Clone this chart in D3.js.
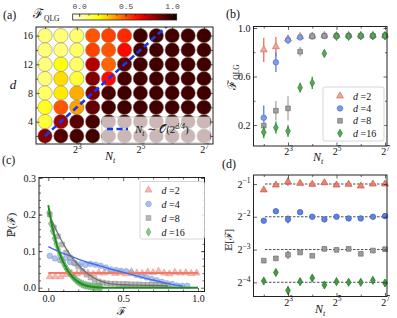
<!DOCTYPE html>
<html>
<head>
<meta charset="utf-8">
<script src="https://cdn.jsdelivr.net/npm/d3@7"></script>
<style>
  body { margin: 0; background: #fff; }
  svg { display: block; }
</style>
</head>
<body>
<svg id="fig" width="397" height="318"></svg>
<script>
// ---- data ----
const logNt = [2, 2.5, 3, 3.5, 4, 4.5, 5, 5.5, 6, 6.5, 7];   // N_t = 2^x
const dRows = [16, 14, 12, 10, 8, 6, 4, 2];
const dSeries = [2, 4, 8, 16];

// (a) F_QLG heat grid, rows follow dRows, columns follow logNt
const gridD16 = [0.08, 0.08, 0.09, 0.50, 0.53, 0.57, 0.96, 0.96, 0.96, 0.96, 0.96];
const gridD14 = [0.08, 0.08, 0.10, 0.53, 0.50, 0.63, 0.96, 0.96, 0.96, 0.96, 0.96];
const gridD12 = [0.08, 0.20, 0.10, 0.77, 0.47, 0.92, 0.96, 0.96, 0.96, 0.96, 0.96];
const gridD10 = [0.08, 0.27, 0.15, 0.85, 0.63, 0.95, 0.96, 0.96, 0.96, 0.96, 0.96];
const gridD8  = [0.10, 0.25, 0.35, 0.87, 0.95, 0.96, 0.96, 0.96, 0.96, 0.96, 0.96];
const gridD6  = [0.18, 0.50, 0.37, 0.90, 0.96, 0.96, 0.96, 0.96, 0.96, 0.96, 0.96];
const gridD4  = [0.15, 0.80, 0.92, 0.95, 0.96, 0.96, 0.96, 0.96, 0.96, 0.96, 0.96];
const gridD2  = [0.85, 0.93, 0.95, 0.96, 0.96, 0.96, 0.96, 0.96, 0.96, 0.96, 0.96];
const cbMin = -0.07, cbMax = 1.05;
const cbTicks = [0, 0.5, 1.0];
const guideD = [2, 18];          // N_t ~ O(2^{d/4}) guide line
const guideLogNt = [2, 6];

// (b) F_QLG vs N_t
const fqD2  = [0.82, 0.846, 0.91, 0.93, 0.935, 0.94, 0.94, 0.94, 0.94, 0.94, 0.94];
const erD2  = [0.10, 0.08, 0.03, 0.02, 0.015, 0.015, 0.015, 0.015, 0.015, 0.015, 0.015];
const fqD4  = [0.26, 0.717, 0.90, 0.922, 0.93, 0.935, 0.935, 0.935, 0.935, 0.935, 0.94];
const erD4  = [0.10, 0.08, 0.03, 0.02, 0.015, 0.015, 0.015, 0.015, 0.015, 0.015, 0.015];
const fqD8  = [0.195, 0.318, 0.337, 0.805, 0.932, 0.934, 0.935, 0.935, 0.935, 0.935, 0.935];
const erD8  = [0.04, 0.08, 0.10, 0.04, 0.02, 0.015, 0.015, 0.015, 0.015, 0.015, 0.015];
const fqD16 = [0.14, 0.178, 0.15, 0.508, 0.547, 0.79, 0.93, 0.93, 0.935, 0.935, 0.935];
const erD16 = [0.05, 0.05, 0.05, 0.04, 0.05, 0.03, 0.02, 0.02, 0.02, 0.02, 0.02];

// (c) distributions P(F)
const fD2 = [0.01, 0.046, 0.083, 0.119, 0.155, 0.192, 0.228, 0.264, 0.3, 0.337, 0.373, 0.409, 0.446, 0.482,
             0.518, 0.555, 0.591, 0.627, 0.664, 0.7, 0.736, 0.773, 0.809, 0.845, 0.882, 0.918, 0.954, 0.99];
const pD2 = [0.03, 0.03, 0.03, 0.036, 0.04, 0.038, 0.042, 0.04, 0.037, 0.041, 0.04, 0.043, 0.039, 0.041,
             0.038, 0.044, 0.04, 0.039, 0.043, 0.041, 0.045, 0.04, 0.038, 0.042, 0.04, 0.041, 0.039, 0.04];
const fD4 = [0.01, 0.044, 0.078, 0.112, 0.146, 0.18, 0.214, 0.248, 0.282, 0.316, 0.35, 0.384, 0.418, 0.452,
             0.486, 0.52, 0.554, 0.588, 0.622, 0.656, 0.69, 0.724, 0.758, 0.792, 0.826, 0.86, 0.894, 0.928];
const pD4 = [0.087, 0.08, 0.075, 0.08, 0.07, 0.066, 0.064, 0.062, 0.065, 0.063, 0.06, 0.055, 0.05, 0.048,
             0.046, 0.045, 0.04, 0.035, 0.032, 0.028, 0.024, 0.02, 0.016, 0.012, 0.01, 0.006, 0.005, 0.005];
const fD8 = [0.01, 0.037, 0.064, 0.092, 0.119, 0.146, 0.173, 0.2, 0.228, 0.255, 0.282, 0.309, 0.336, 0.364, 0.391,
             0.418, 0.445, 0.472, 0.5, 0.527, 0.554, 0.581, 0.608, 0.636, 0.663, 0.69, 0.717, 0.744, 0.772, 0.799];
const pD8 = [0.2, 0.165, 0.14, 0.118, 0.096, 0.082, 0.068, 0.058, 0.045, 0.036, 0.028, 0.022, 0.017, 0.014, 0.012,
             0.011, 0.011, 0.01, 0.01, 0.01, 0.009, 0.009, 0.009, 0.008, 0.008, 0.008, 0.007, 0.007, 0.006, 0.006];
const fD16 = [0.005, 0.017, 0.029, 0.041, 0.053, 0.065, 0.077, 0.089, 0.101, 0.113, 0.125, 0.137, 0.149, 0.161, 0.173,
              0.185, 0.197, 0.209, 0.221, 0.233, 0.245, 0.257, 0.269, 0.281, 0.293, 0.305, 0.317, 0.329, 0.341, 0.353];
const pD16 = [0.205, 0.175, 0.155, 0.135, 0.12, 0.105, 0.09, 0.078, 0.068, 0.058, 0.05, 0.043, 0.037, 0.031, 0.026,
              0.021, 0.017, 0.014, 0.011, 0.009, 0.007, 0.006, 0.005, 0.004, 0.003, 0.003, 0.002, 0.002, 0.001, 0.001];
// fitted curves
const fitF   = [0, 0.025, 0.05, 0.075, 0.1, 0.125, 0.15, 0.175, 0.2, 0.25, 0.3, 0.35, 0.4, 0.5, 0.6, 0.7, 0.8, 0.9, 1.0];
const fitD2  = [0.04, 0.04, 0.04, 0.04, 0.04, 0.04, 0.04, 0.04, 0.04, 0.04, 0.04, 0.04, 0.04, 0.04, 0.04, 0.04, 0.04, 0.04, 0.04];
const fitD4  = [0.112, 0.107, 0.103, 0.098, 0.094, 0.09, 0.086, 0.082, 0.078, 0.071, 0.065, 0.059, 0.053, 0.042, 0.031, 0.021, 0.011, 0.004, null];
const fitD8  = [0.205, 0.182, 0.16, 0.14, 0.12, 0.103, 0.088, 0.074, 0.062, 0.042, 0.028, 0.018, 0.012, 0.008, 0.007, 0.006, 0.005, null, null];
const fitD16 = [0.226, 0.17, 0.128, 0.095, 0.07, 0.05, 0.035, 0.024, 0.016, 0.006, 0.002, 0.0005, 0, 0, 0, 0, 0, 0, 0];

// (d) log2 E[F] vs N_t
const eD2  = [-1.18, -1.03, -0.93, -0.98, -1.01, -0.96, -1.03, -1.01, -1.06, -1.0, -1.0];
const eD4  = [-2.12, -1.83, -2.08, -1.86, -2.0, -2.08, -2.0, -2.05, -2.05, -2.0, -1.98];
const eD8  = [-3.34, -3.27, -3.16, -3.09, -3.19, -2.98, -3.01, -2.98, -3.13, -3.03, -2.99];
const eD16 = [-3.96, -3.7, -4.25, -3.98, -3.87, -4.08, -3.98, -4.0, -4.0, -3.94, -4.02];
const eErr = [0.05, 0.06, 0.12, 0.05, 0.05, 0.06, 0.05, 0.05, 0.05, 0.06, 0.06];
const eLevels = [-1, -2, -3, -4];

// ---- styles ----
const serif = '"Liberation Serif","DejaVu Serif",serif';
const mark = [
  {type: d3.symbolTriangle, size: 21, b: ["#f4a494", "#d0706a", "#f26a5a"], c: ["#f4a89e", "#dc8a80"], d: ["#ee8070", "#c85548"]},
  {type: d3.symbolCircle,   size: 24, b: ["#7f9de6", "#4d6fc8", "#4f7ff0"], c: ["#9db3ea", "#7a94d6"], d: ["#5f83e2", "#3a5cc0"]},
  {type: d3.symbolSquare,   size: 22, b: ["#a0a0a0", "#707070", "#aaaaaa"], c: ["#acacac", "#888888"], d: ["#9c9c9c", "#6e6e6e"]},
  {type: d3.symbolDiamond,  size: 19, b: ["#56aa56", "#2d7a2d", "#2ca02c"], c: ["#7bbf7b", "#4f9a4f"], d: ["#3f9f3f", "#206820"]}
];

const svg = d3.select("#fig");

function panel(x0, y0, x1, y1) {
  const g = svg.append("g").attr("transform", `translate(${x0},${y0})`);
  return {g: g, w: x1 - x0, h: y1 - y0};
}

function supFmt(sel, anchor) {
  sel.selectAll(".tick text").each(function(d) {
    const t = d3.select(this);
    t.text(null).attr("text-anchor", anchor);
    t.append("tspan").text("2");
    t.append("tspan").attr("dy", -4.5).attr("font-size", 7.5).text(String(d).replace("-", "\u2212"));
  });
}

function drawAxes(p, x, y, o) {
  const g = p.g, w = p.w, h = p.h;
  const strip = s => s.select(".domain").remove();
  if (o.xMinor) {
    g.append("g").attr("transform", `translate(0,${h})`)
      .call(d3.axisBottom(x).tickValues(o.xMinor).tickSize(-2).tickFormat("")).call(strip);
    g.append("g").call(d3.axisTop(x).tickValues(o.xMinor).tickSize(-2).tickFormat("")).call(strip);
  }
  if (o.yMinor) {
    g.append("g").call(d3.axisLeft(y).tickValues(o.yMinor).tickSize(-2).tickFormat("")).call(strip);
    g.append("g").attr("transform", `translate(${w},0)`)
      .call(d3.axisRight(y).tickValues(o.yMinor).tickSize(-2).tickFormat("")).call(strip);
  }
  const xa = g.append("g").attr("transform", `translate(0,${h})`)
    .call(d3.axisBottom(x).tickValues(o.xTicks).tickSize(-3.5).tickPadding(o.xPad || 3).tickFormat(o.xFmt)).call(strip);
  g.append("g").call(d3.axisTop(x).tickValues(o.xTicks).tickSize(-3.5).tickFormat("")).call(strip);
  const ya = g.append("g")
    .call(d3.axisLeft(y).tickValues(o.yTicks).tickSize(-3.5).tickPadding(3).tickFormat(o.yFmt)).call(strip);
  g.append("g").attr("transform", `translate(${w},0)`)
    .call(d3.axisRight(y).tickValues(o.yTicks).tickSize(-3.5).tickFormat("")).call(strip);
  g.append("rect").attr("width", w).attr("height", h)
    .attr("fill", "none").attr("stroke", "#222").attr("stroke-width", 1);
  g.selectAll(".tick line").attr("stroke", "#222").attr("stroke-width", 0.7);
  g.selectAll(".tick text").attr("font-family", serif).attr("font-size", 10).attr("fill", "#111");
  if (o.xSup) supFmt(xa, "middle");
  if (o.ySup) supFmt(ya, "end");
}

function label(x, y, parts, opt) {
  const t = svg.append("text").attr("x", x).attr("y", y).attr("font-family", serif)
    .attr("fill", "#111").attr("text-anchor", (opt && opt.anchor) || "start");
  if (opt && opt.rotate) t.attr("transform", `rotate(-90,${x},${y})`);
  parts.forEach(p => {
    const s = t.append("tspan").text(p.t).attr("font-size", p.fs || 11);
    if (p.it) s.attr("font-style", "italic");
    if (p.dy) s.attr("dy", p.dy);
  });
  return t;
}

function legendRow(g, x, y, k, set, alpha) {
  const m = mark[k];
  g.append("path").attr("transform", `translate(${x},${y})`)
    .attr("d", d3.symbol().type(m.type).size(m.size)())
    .attr("fill", m[set][0]).attr("stroke", m[set][1]).attr("stroke-width", 0.7).attr("opacity", alpha);
  const t = g.append("text").attr("x", x + 13).attr("y", y + 3.5).attr("font-family", serif).attr("font-size", 10).attr("fill", "#111");
  t.append("tspan").attr("font-style", "italic").text("d");
  t.append("tspan").text(" =" + dSeries[k]);
}

// ---- (a) heat grid ----
const grid = [gridD16, gridD14, gridD12, gridD10, gridD8, gridD6, gridD4, gridD2];
const pa = panel(36, 27, 213, 144);
const xa = d3.scaleLinear().domain([1.717, 7.283]).range([0, pa.w]);
const ya = d3.scaleLinear().domain([0.883, 17.21]).range([pa.h, 0]);
const cNorm = d3.scaleLinear().domain([cbMin, cbMax]).range([1, 0]).clamp(true);
function hotR(v) {
  const t = cNorm(v);
  const r = Math.min(1, 0.0416 + t / 0.365079 * 0.9584);
  const g = Math.max(0, Math.min(1, (t - 0.365079) / 0.380953));
  const b = Math.max(0, Math.min(1, (t - 0.746032) / 0.253968));
  return d3.rgb(r * 255, g * 255, b * 255).formatHex();
}
svg.append("clipPath").attr("id", "clipA").append("rect").attr("width", pa.w).attr("height", pa.h);
const cells = [];
grid.forEach((row, i) => row.forEach((v, j) => cells.push({d: dRows[i], n: logNt[j], v: v})));
pa.g.append("g").attr("clip-path", "url(#clipA)").selectAll("circle").data(cells).join("circle")
  .attr("cx", c => xa(c.n)).attr("cy", c => ya(c.d)).attr("r", 7.2)
  .attr("fill", c => hotR(c.v)).attr("stroke", "#8a7a6a").attr("stroke-width", 0.5);
pa.g.append("path").attr("clip-path", "url(#clipA)")
  .datum(guideD.map((d, i) => [guideLogNt[i], d]))
  .attr("d", d3.line().x(p => xa(p[0])).y(p => ya(p[1])))
  .attr("fill", "none").attr("stroke", "#1a35f0").attr("stroke-width", 2.6).attr("stroke-dasharray", "6,3.5");
drawAxes(pa, xa, ya, {xTicks: [3, 5, 7], xMinor: [2, 4, 6], xFmt: d => d, xSup: true, xPad: 2,
  yTicks: [4, 8, 12, 16], yMinor: [2, 6, 10, 14], yFmt: d => d});
// legend of (a)
const la = pa.g.append("g");
la.append("rect").attr("x", 66).attr("y", 90).attr("width", 108).attr("height", 26).attr("rx", 2)
  .attr("fill", "#fff").attr("fill-opacity", 0.72).attr("stroke", "#bbb").attr("stroke-width", 0.8);
la.append("line").attr("x1", 71).attr("x2", 92).attr("y1", 102).attr("y2", 102)
  .attr("stroke", "#1a35f0").attr("stroke-width", 2.6).attr("stroke-dasharray", "6,3.5");
const lt = la.append("text").attr("x", 99).attr("y", 106).attr("font-family", serif).attr("font-size", 11).attr("fill", "#111");
lt.append("tspan").attr("font-style", "italic").text("N");
lt.append("tspan").attr("font-style", "italic").attr("font-size", 7.5).attr("dy", 2.5).text("t");
lt.append("tspan").attr("dy", -2.5).text(" \u223C \uD835\uDCAA(2");
lt.append("tspan").attr("font-style", "italic").attr("font-size", 7.5).attr("dy", -4.5).text("d/4");
lt.append("tspan").attr("dy", 4.5).text(")");

// colorbar
const cbx = d3.scaleLinear().domain([cbMin, cbMax]).range([72.7, 176.7]);
const grad = svg.append("defs").append("linearGradient").attr("id", "cbGrad");
d3.range(0, 1.0001, 0.05).forEach(f => {
  grad.append("stop").attr("offset", f).attr("stop-color", hotR(cbMin + f * (cbMax - cbMin)));
});
svg.append("rect").attr("x", cbx(cbMin)).attr("y", 14).attr("width", cbx(cbMax) - cbx(cbMin)).attr("height", 6)
  .attr("fill", "url(#cbGrad)").attr("stroke", "#222").attr("stroke-width", 0.8);
svg.append("g").attr("transform", "translate(0,14)")
  .call(d3.axisTop(cbx).tickValues(d3.range(0, 1.01, 0.1)).tickSize(-1.8).tickFormat(""))
  .call(s => s.select(".domain").remove())
  .selectAll("line").attr("stroke", "#222").attr("stroke-width", 0.6);
svg.append("g").attr("transform", "translate(0,14)")
  .call(d3.axisTop(cbx).tickValues(cbTicks).tickSize(-3).tickPadding(5).tickFormat(d3.format(".1f")))
  .call(s => s.select(".domain").remove())
  .call(s => s.selectAll("line").attr("stroke", "#222").attr("stroke-width", 0.7))
  .call(s => s.selectAll("text").attr("font-family", '"Liberation Mono","DejaVu Sans Mono",monospace').attr("font-size", 8).attr("fill", "#444"));

label(3, 19, [{t: "(a)", fs: 12}]);
label(33, 18, [{t: "\u2131", fs: 13}, {t: "QLG", fs: 7.5, dy: 3}]);
label(13, 89, [{t: "d", it: true, fs: 13}], {anchor: "middle"});
label(110, 160, [{t: "N", it: true, fs: 12}, {t: "t", it: true, fs: 8, dy: 3}], {anchor: "middle"});

// ---- (b) F_QLG vs N_t ----
const pb = panel(253.5, 26.5, 387, 146);
const xb = d3.scaleLinear().domain([1.577, 7.082]).range([0, pb.w]);
const yb = d3.scaleLinear().domain([0.0268, 1.0124]).range([pb.h, 0]);
const fqAll = [fqD2, fqD4, fqD8, fqD16], erAll = [erD2, erD4, erD8, erD16];
fqAll.forEach((vals, k) => {
  const m = mark[k];
  const s = pb.g.append("g");
  s.selectAll("line").data(vals).join("line")
    .attr("x1", (v, i) => xb(logNt[i])).attr("x2", (v, i) => xb(logNt[i]))
    .attr("y1", (v, i) => yb(v - erAll[k][i])).attr("y2", (v, i) => yb(v + erAll[k][i]))
    .attr("stroke", m.b[2]).attr("stroke-width", 1.3);
  s.selectAll("path").data(vals).join("path")
    .attr("transform", (v, i) => `translate(${xb(logNt[i])},${yb(v)})`)
    .attr("d", d3.symbol().type(m.type).size(m.size)())
    .attr("fill", m.b[0]).attr("stroke", m.b[1]).attr("stroke-width", 0.7);
});
drawAxes(pb, xb, yb, {xTicks: [3, 5, 7], xMinor: [2, 4, 6], xFmt: d => d, xSup: true, xPad: 2,
  yTicks: [0.2, 0.6, 1.0], yMinor: [0.4, 0.8], yFmt: d3.format(".1f")});
const lb = pb.g.append("g");
lb.append("rect").attr("x", 69.5).attr("y", 60.5).attr("width", 61).attr("height", 54).attr("rx", 2)
  .attr("fill", "#fff").attr("fill-opacity", 0.85).attr("stroke", "#ccc").attr("stroke-width", 0.8);
[0, 1, 2, 3].forEach(k => legendRow(lb, 86.5, 69.5 + k * 12.4, k, "b", 1));
label(226, 18, [{t: "(b)", fs: 12}]);
label(236, 77, [{t: "\u2131", fs: 12}, {t: "QLG", fs: 7.5, dy: 3}], {anchor: "middle", rotate: true});
label(318, 161, [{t: "N", it: true, fs: 12}, {t: "t", it: true, fs: 8, dy: 3}], {anchor: "middle"});

// ---- (c) distributions ----
const pc = panel(39, 177.5, 204.5, 291.5);
const xc = d3.scaleLinear().domain([-0.062, 1.043]).range([0, pc.w]);
const yc = d3.scaleLinear().domain([-0.0104, 0.3013]).range([pc.h, 0]);
const fAll = [fD2, fD4, fD8, fD16], pAll = [pD2, pD4, pD8, pD16];
fAll.forEach((fs, k) => {
  const m = mark[k];
  pc.g.append("g").selectAll("path").data(fs).join("path")
    .attr("transform", (f, i) => `translate(${xc(f)},${yc(pAll[k][i])})`)
    .attr("d", d3.symbol().type(m.type).size(m.size)())
    .attr("fill", m.c[0]).attr("stroke", m.c[1]).attr("stroke-width", 0.7).attr("opacity", 0.8);
});
const fitAll = [fitD2, fitD4, fitD8, fitD16];
const fitStyle = [["#f47a66", 2], ["#3f6fe6", 1.4], ["#6e6e6e", 1.3], ["#1c8c1c", 1.9]];
fitAll.forEach((vals, k) => {
  pc.g.append("path").datum(fitF.map((f, i) => [f, vals[i]]))
    .attr("d", d3.line().defined(p => p[1] !== null).curve(d3.curveMonotoneX).x(p => xc(p[0])).y(p => yc(p[1])))
    .attr("fill", "none").attr("stroke", fitStyle[k][0]).attr("stroke-width", fitStyle[k][1]);
});
drawAxes(pc, xc, yc, {xTicks: [0, 0.5, 1.0], xMinor: d3.range(0.1, 1.0, 0.1).filter(v => Math.abs(v - 0.5) > 0.01), xFmt: d3.format(".1f"),
  yTicks: [0, 0.1, 0.2, 0.3], yMinor: d3.range(0.02, 0.3, 0.02), yFmt: d3.format(".1f")});
const lc = pc.g.append("g");
lc.append("rect").attr("x", 101).attr("y", 4).attr("width", 64.5).attr("height", 57.5).attr("rx", 2)
  .attr("fill", "#fff").attr("fill-opacity", 0.85).attr("stroke", "#ccc").attr("stroke-width", 0.8);
[0, 1, 2, 3].forEach(k => legendRow(lc, 109.5, 12.5 + k * 14, k, "c", 0.85));
label(2, 164, [{t: "(c)", fs: 12}]);
label(15, 225, [{t: "\u2119(", fs: 11}, {t: "\u2131", fs: 11}, {t: ")", fs: 11}], {anchor: "middle", rotate: true});
label(121, 315, [{t: "\u2131", fs: 11}], {anchor: "middle"});

// ---- (d) mean fidelity ----
const pd = panel(253.5, 175, 387, 296.5);
const xd = d3.scaleLinear().domain([1.577, 7.082]).range([0, pd.w]);
const yd = d3.scaleLinear().domain([-4.433, -0.725]).range([pd.h, 0]);
pd.g.append("g").selectAll("line").data(eLevels).join("line")
  .attr("x1", xd(2.05)).attr("x2", pd.w).attr("y1", v => yd(v)).attr("y2", v => yd(v))
  .attr("stroke", "#222").attr("stroke-width", 0.8).attr("stroke-dasharray", "2.5,1.5");
const eAll = [eD2, eD4, eD8, eD16];
eAll.forEach((vals, k) => {
  const m = mark[k];
  const s = pd.g.append("g");
  s.selectAll("line").data(vals).join("line")
    .attr("x1", (v, i) => xd(logNt[i])).attr("x2", (v, i) => xd(logNt[i]))
    .attr("y1", (v, i) => yd(v - eErr[i])).attr("y2", (v, i) => yd(v + eErr[i]))
    .attr("stroke", "#333").attr("stroke-width", 1);
  s.selectAll("path").data(vals).join("path")
    .attr("transform", (v, i) => `translate(${xd(logNt[i])},${yd(v)})`)
    .attr("d", d3.symbol().type(m.type).size(m.size)())
    .attr("fill", m.d[0]).attr("stroke", m.d[1]).attr("stroke-width", 0.7);
});
drawAxes(pd, xd, yd, {xTicks: [3, 5, 7], xMinor: [2, 4, 6], xFmt: d => d, xSup: true, xPad: 2,
  yTicks: eLevels, yFmt: d => d, ySup: true});
label(222, 168, [{t: "(d)", fs: 12}]);
label(232, 240, [{t: "\uD835\uDD3C[", fs: 10}, {t: "\u2131", fs: 10}, {t: "]", fs: 10}], {anchor: "middle", rotate: true});
label(320, 313, [{t: "N", it: true, fs: 12}, {t: "t", it: true, fs: 8, dy: 3}], {anchor: "middle"});
</script>
</body>
</html>
